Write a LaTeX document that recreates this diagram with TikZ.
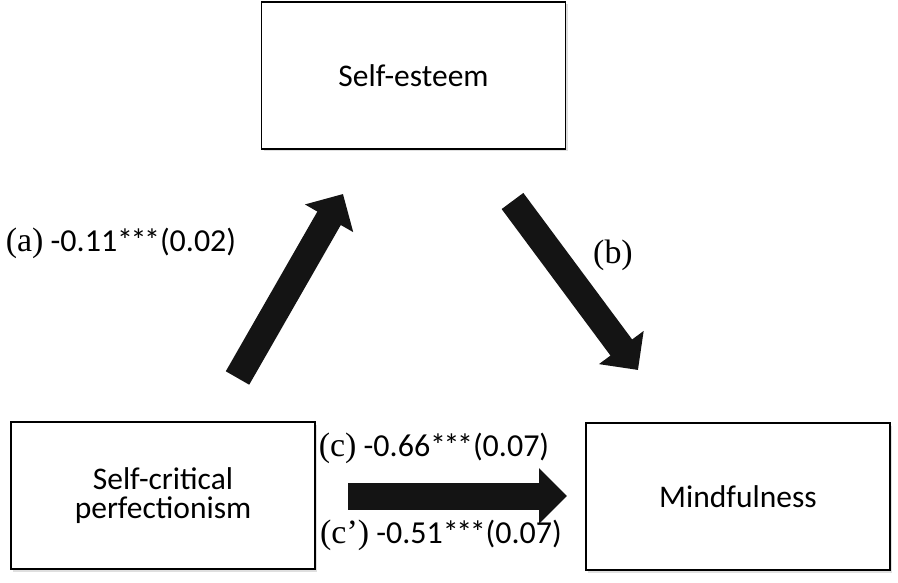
\documentclass[tikz,border=0pt]{standalone}
\usepackage{fontspec}
\setmainfont{Carlito}
\newfontfamily\letterfont[Scale=1.06]{Liberation Serif}
\usetikzlibrary{arrows.meta,shadows}

% three significance stars, set close together
\newcommand{\sigstars}{*\kern-2.5pt*\kern-2.5pt*}

\tikzset{
  varbox/.style={draw, line width=1.6pt, fill=white,
    minimum width=304pt, minimum height=147pt, align=center,
    font=\fontsize{31.5}{29}\selectfont,
    drop shadow={shadow xshift=2pt, shadow yshift=-2.5pt, opacity=0.25}},
  pathlabel/.style={inner sep=0pt, font=\fontsize{32}{34}\selectfont},
  blockarrow/.style={line width=27pt, color=black!92,
    -{Triangle[width=54pt, length=28pt]}}
}

\begin{document}
\begin{tikzpicture}[x=1pt, y=-1pt]
        \useasboundingbox (0,0) rectangle (898,583);

        % Boxes
        \node[varbox] (esteem) at (413.5,75.5) {Self-esteem};
        \node[varbox] (perfect) at (163,495.5) {Self-critical\\perfectionism};
        \node[varbox] (mindful) at (738,496.5) {Mindfulness};

        % Arrow ends
        \coordinate (atail) at (237.5,378);
        \coordinate (ahead) at (343,194);
        \coordinate (btail) at (512.5,201);
        \coordinate (bhead) at (638,370);
        \coordinate (ctail) at (348,496);
        \coordinate (chead) at (567,496);

        % Arrows
        \draw[blockarrow] (atail) -- (ahead);
        \draw[blockarrow] (btail) -- (bhead);
        \draw[blockarrow] (ctail) -- (chead);

        % Path labels
        \node[pathlabel] (alabel) at (121,243) {{\letterfont(a)} -0.11\sigstars(0.02)};
        \node[pathlabel] (blabel) at (613,255) {\letterfont(b)};
        \node[pathlabel] (clabel) at (434,448) {{\letterfont(c)} -0.66\sigstars(0.07)};
        \node[pathlabel] (cplabel) at (441,535) {{\letterfont(c’)} -0.51\sigstars(0.07)};
      \end{tikzpicture}
\end{document}
